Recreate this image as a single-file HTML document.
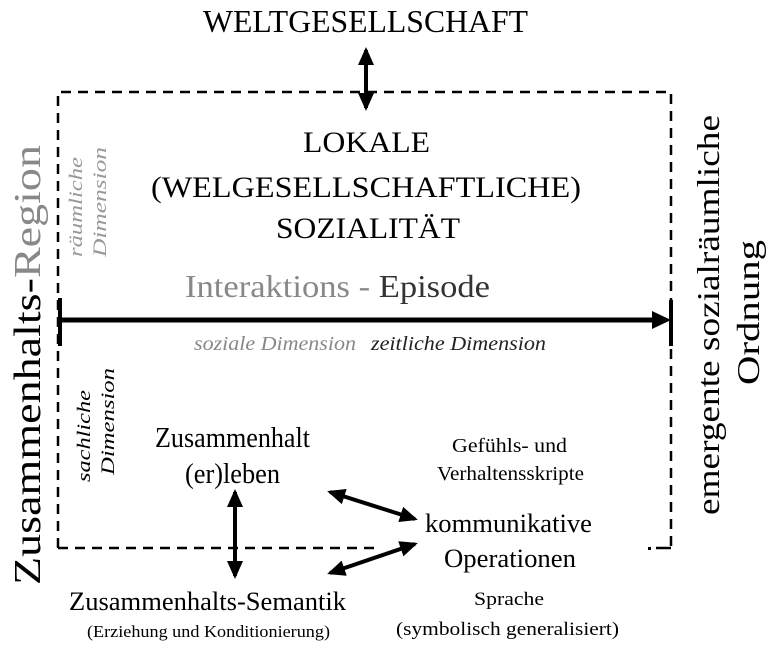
<!DOCTYPE html>
<html><head><meta charset="utf-8"><style>
html,body{margin:0;padding:0;background:#fff;}
svg{display:block;font-family:"Liberation Serif",serif;}
</style></head><body>
<svg width="768" height="650" viewBox="0 0 768 650" xmlns="http://www.w3.org/2000/svg">
<defs>
<marker id="ah2" markerWidth="18" markerHeight="16" refX="15" refY="8" orient="auto-start-reverse" markerUnits="userSpaceOnUse">
<path d="M0,0 L18,8 L0,16 z" fill="#000"/>
</marker>
</defs>
<path d="M58,548 L58,92 L671,92 L671,548" fill="none" stroke="#000" stroke-width="2.5" stroke-dasharray="10,7"/>
<path d="M58,548 L376,548" fill="none" stroke="#000" stroke-width="2.5" stroke-dasharray="10,7"/>
<path d="M656,548 L671,548" fill="none" stroke="#000" stroke-width="2.5"/>
<rect x="648" y="547" width="3" height="3" fill="#000"/>
<text x="203" y="32" font-size="32" textLength="325" lengthAdjust="spacingAndGlyphs">WELTGESELLSCHAFT</text>
<line x1="366" y1="50" x2="366" y2="108" stroke="#000" stroke-width="4" marker-start="url(#ah2)" marker-end="url(#ah2)"/>
<text x="303" y="152" font-size="30" textLength="127" lengthAdjust="spacingAndGlyphs">LOKALE</text>
<text x="151" y="197" font-size="30" textLength="430" lengthAdjust="spacingAndGlyphs">(WELGESELLSCHAFTLICHE)</text>
<text x="276" y="238" font-size="30" textLength="184" lengthAdjust="spacingAndGlyphs">SOZIALITÄT</text>
<text x="185" y="297" font-size="32" textLength="305" lengthAdjust="spacingAndGlyphs"><tspan fill="#888">Interaktions  -  </tspan><tspan fill="#333">Episode</tspan></text>
<line x1="60" y1="320" x2="660" y2="320" stroke="#000" stroke-width="5"/>
<path d="M652,311 L671,320 L652,329 z" fill="#000"/>
<line x1="60" y1="298" x2="60" y2="346" stroke="#000" stroke-width="4"/>
<line x1="671" y1="300" x2="671" y2="346" stroke="#000" stroke-width="4"/>
<text x="194" y="350" font-size="20" font-style="italic" fill="#888" textLength="162" lengthAdjust="spacingAndGlyphs">soziale Dimension</text>
<text x="371" y="350" font-size="20" font-style="italic" fill="#222" textLength="175" lengthAdjust="spacingAndGlyphs">zeitliche Dimension</text>
<text transform="translate(40,585) rotate(-90)" font-size="38" textLength="440" lengthAdjust="spacingAndGlyphs"><tspan fill="#000">Zusammenhalts-</tspan><tspan fill="#888">Region</tspan></text>
<text transform="translate(82,257) rotate(-90)" font-size="19" font-style="italic" fill="#999" textLength="100" lengthAdjust="spacingAndGlyphs">räumliche</text>
<text transform="translate(106,257) rotate(-90)" font-size="19" font-style="italic" fill="#999" textLength="110" lengthAdjust="spacingAndGlyphs">Dimension</text>
<text transform="translate(90,482) rotate(-90)" font-size="19" font-style="italic" fill="#000" textLength="92" lengthAdjust="spacingAndGlyphs">sachliche</text>
<text transform="translate(114,475) rotate(-90)" font-size="19" font-style="italic" fill="#000" textLength="107" lengthAdjust="spacingAndGlyphs">Dimension</text>
<text transform="translate(719,515) rotate(-90)" font-size="32" textLength="400" lengthAdjust="spacingAndGlyphs">emergente sozialräumliche</text>
<text transform="translate(759,385) rotate(-90)" font-size="32" textLength="145" lengthAdjust="spacingAndGlyphs">Ordnung</text>
<text x="155" y="447" font-size="28" textLength="155" lengthAdjust="spacingAndGlyphs">Zusammenhalt</text>
<text x="185" y="483" font-size="28" textLength="95" lengthAdjust="spacingAndGlyphs">(er)leben</text>
<text x="452" y="452" font-size="20" textLength="115" lengthAdjust="spacingAndGlyphs">Gefühls- und</text>
<text x="437" y="480" font-size="20" textLength="147" lengthAdjust="spacingAndGlyphs">Verhaltensskripte</text>
<text x="425" y="532" font-size="26" textLength="167" lengthAdjust="spacingAndGlyphs">kommunikative</text>
<text x="444" y="567" font-size="26" textLength="132" lengthAdjust="spacingAndGlyphs">Operationen</text>
<text x="69" y="610" font-size="26" textLength="277" lengthAdjust="spacingAndGlyphs">Zusammenhalts-Semantik</text>
<text x="87" y="637" font-size="17" textLength="243" lengthAdjust="spacingAndGlyphs">(Erziehung und Konditionierung)</text>
<text x="474" y="605" font-size="19" textLength="70" lengthAdjust="spacingAndGlyphs">Sprache</text>
<text x="396" y="635" font-size="19" textLength="223" lengthAdjust="spacingAndGlyphs">(symbolisch generalisiert)</text>
<line x1="235" y1="492" x2="235" y2="576" stroke="#000" stroke-width="4" marker-start="url(#ah2)" marker-end="url(#ah2)"/>
<line x1="330" y1="492" x2="415" y2="519" stroke="#000" stroke-width="4" marker-start="url(#ah2)" marker-end="url(#ah2)"/>
<line x1="330" y1="573" x2="415" y2="544" stroke="#000" stroke-width="4" marker-start="url(#ah2)" marker-end="url(#ah2)"/>
</svg>
</body></html>
